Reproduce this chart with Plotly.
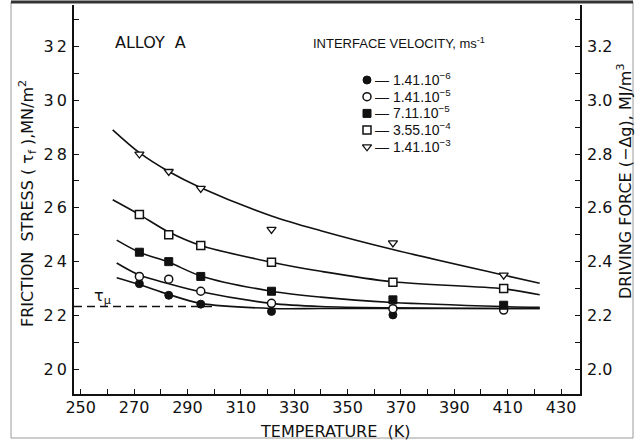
import plotly.graph_objects as go

# Measured friction stress (MN/m^2) at each test temperature (K)
temps = [272, 283, 295, 321.5, 367, 408.5]
velocity_labels = ["1.41.10<sup>−6</sup>", "1.41.10<sup>−5</sup>", "7.11.10<sup>−5</sup>",
                   "3.55.10<sup>−4</sup>", "1.41.10<sup>−3</sup>"]
stress_v1 = [23.18, 22.75, 22.42, 22.15, 22.02, 22.25]
stress_v2 = [23.45, 23.35, 22.90, 22.45, 22.25, 22.20]
stress_v3 = [24.35, 24.00, 23.45, 22.90, 22.58, 22.38]
stress_v4 = [25.75, 25.00, 24.60, 23.98, 23.23, 23.00]
stress_v5 = [28.00, 27.35, 26.72, 25.20, 24.70, 23.50]

# Hand-drawn trend curves through each data set
fit_temps_hi = [262, 272, 283, 295, 321.5, 340, 367, 408.5, 422]
fit_temps_lo = [263.5, 272, 283, 295, 321.5, 340, 367, 408.5, 422]
fit_v5 = [28.9, 28.05, 27.35, 26.75, 25.7, 25.15, 24.45, 23.5, 23.2]
fit_v4 = [26.3, 25.75, 25.1, 24.6, 23.98, 23.64, 23.25, 22.99, 22.77]
fit_v3 = [24.8, 24.35, 23.98, 23.47, 22.9, 22.68, 22.48, 22.33, 22.3]
fit_v2 = [23.95, 23.5, 23.18, 22.88, 22.45, 22.33, 22.28, 22.26, 22.26]
fit_v1 = [23.4, 23.15, 22.78, 22.45, 22.26, 22.26, 22.26, 22.26, 22.26]

# Athermal friction stress level
tau_mu = 22.33
tau_mu_temps = [247.5, 300]

# Axis extents and tick labels
x_range = [247.5, 437.1]
y_range = [19.08, 33.54]
x_ticks = [250, 270, 290, 310, 330, 350, 370, 390, 410, 430]
y_ticks = [20, 22, 24, 26, 28, 30, 32]
y2_ticks = [2.0, 2.2, 2.4, 2.6, 2.8, 3.0, 3.2]

FONT = "DejaVu Sans"
INK = "#111111"

# Figure geometry in pixels (plot box edges)
W, H = 642, 442
L, R, T, B = 74, 580, 5, 394

fig = go.Figure()

curves = [(fit_temps_lo, fit_v1), (fit_temps_lo, fit_v2), (fit_temps_lo, fit_v3),
          (fit_temps_hi, fit_v4), (fit_temps_hi, fit_v5)]
for tx, ty in curves:
    fig.add_trace(go.Scatter(x=tx, y=ty, mode="lines", showlegend=False,
                             line=dict(color=INK, width=1.6, shape="spline", smoothing=0.9),
                             hoverinfo="skip"))

fig.add_trace(go.Scatter(x=tau_mu_temps, y=[tau_mu, tau_mu], mode="lines", showlegend=False,
                         line=dict(color=INK, width=1.6, dash="8px,5px"), hoverinfo="skip"))

symbols = [
    dict(symbol="circle", color=INK, size=8, line=dict(color=INK, width=1)),
    dict(symbol="circle", color="white", size=8, line=dict(color=INK, width=1.5)),
    dict(symbol="square", color=INK, size=8, line=dict(color=INK, width=1)),
    dict(symbol="square", color="white", size=8, line=dict(color=INK, width=1.5)),
    dict(symbol="triangle-down", color="white", size=8, line=dict(color=INK, width=1.3)),
]
all_stress = [stress_v1, stress_v2, stress_v3, stress_v4, stress_v5]
for name, ys, mk in zip(velocity_labels, all_stress, symbols):
    fig.add_trace(go.Scatter(x=temps, y=ys, mode="markers", name=name, marker=mk,
                             showlegend=False))

# Secondary axis carries the driving force scale (MJ/m^3)
fig.add_trace(go.Scatter(x=[x_range[0]], y=[y_range[0] / 10], yaxis="y2", mode="markers",
                         marker=dict(opacity=0), showlegend=False, hoverinfo="skip"))

# Key: one symbol per velocity, laid out on a pixel-unit overlay
key_x = 367
key_top = 80
key_step = 16.7
for i, (name, mk) in enumerate(zip(velocity_labels, symbols)):
    fig.add_trace(go.Scatter(x=[key_x], y=[key_top + i * key_step], xaxis="x2", yaxis="y3",
                             mode="markers", marker=mk, showlegend=False, hoverinfo="skip"))

axis_common = dict(showgrid=False, zeroline=False, showline=True, linecolor=INK, linewidth=1.6,
                   ticks="inside", ticklen=5, tickwidth=1.3, tickcolor=INK,
                   tickfont=dict(family=FONT, size=16, color=INK))

fig.update_layout(
    width=W, height=H,
    margin=dict(l=L, r=W - R, t=T, b=H - B),
    paper_bgcolor="white", plot_bgcolor="white",
    xaxis=dict(range=x_range, tickvals=x_ticks,
               minor=dict(dtick=10, tick0=250, ticks="inside", ticklen=5, tickcolor=INK, tickwidth=1.3),
               ticklabelstandoff=-2, **axis_common),
    yaxis=dict(range=y_range, tickvals=y_ticks, ticktext=[f"{v // 10}\u2009{v % 10}" for v in y_ticks],
               minor=dict(dtick=1, tick0=20, ticks="inside", ticklen=5, tickcolor=INK, tickwidth=1.3),
               ticklabelstandoff=2, **axis_common),
    yaxis2=dict(range=[y_range[0] / 10, y_range[1] / 10], overlaying="y", side="right",
                tickvals=y2_ticks, ticktext=[f"{v:.1f}" for v in y2_ticks],
                minor=dict(dtick=0.1, tick0=2.0, ticks="inside", ticklen=5, tickcolor=INK, tickwidth=1.3),
                ticklabelstandoff=2, **axis_common),
    xaxis2=dict(range=[L, R], overlaying="x", visible=False, fixedrange=True),
    yaxis3=dict(range=[B, T], overlaying="y", visible=False, fixedrange=True),
    showlegend=False,
)


def px_x(px):
    return (px - L) / (R - L)


def px_y(py):
    return (B - py) / (B - T)


annotations = [
    dict(text="ALLOY  A", x=px_x(113), y=px_y(43), xanchor="left", yanchor="middle",
         font=dict(family=FONT, size=16, color=INK)),
    dict(text="INTERFACE VELOCITY, ms<sup>-1</sup>", x=px_x(311), y=px_y(43), xanchor="left",
         yanchor="middle", font=dict(family="Liberation Sans", size=13, color=INK)),
    dict(text="τ<sub>μ</sub>", x=px_x(92), y=px_y(296), xanchor="left", yanchor="middle",
         font=dict(family=FONT, size=16, color=INK)),
    dict(text="TEMPERATURE  (K)", x=px_x(335), y=px_y(431), xanchor="center", yanchor="middle",
         font=dict(family=FONT, size=16, color=INK)),
    dict(text="FRICTION  STRESS ( τ<sub>f</sub> ),MN/m<sup>2</sup>", x=px_x(27), y=px_y(204),
         textangle=-90, xanchor="center", yanchor="middle",
         font=dict(family=FONT, size=16, color=INK)),
    dict(text="DRIVING FORCE (−Δg), MJ/m<sup>3</sup>", x=px_x(624), y=px_y(181),
         textangle=-90, xanchor="center", yanchor="middle",
         font=dict(family=FONT, size=16, color=INK)),
]
for i, name in enumerate(velocity_labels):
    annotations.append(dict(text="— " + name, x=px_x(key_x + 6), y=px_y(key_top + i * key_step - 1),
                            xanchor="left", yanchor="middle",
                            font=dict(family="Liberation Sans", size=14, color=INK)))
for a in annotations:
    a.update(xref="paper", yref="paper", showarrow=False)
fig.update_layout(annotations=annotations)

# Outer frame around the figure
fig.add_shape(type="rect", xref="paper", yref="paper", x0=px_x(11), x1=px_x(633),
              y0=px_y(438), y1=px_y(2), line=dict(color="#9a9a9a", width=1), layer="below")
fig.add_shape(type="line", xref="paper", yref="paper", x0=px_x(11), x1=px_x(633),
              y0=px_y(2), y1=px_y(2), line=dict(color="#333333", width=3))

fig.write_html("out.html")
